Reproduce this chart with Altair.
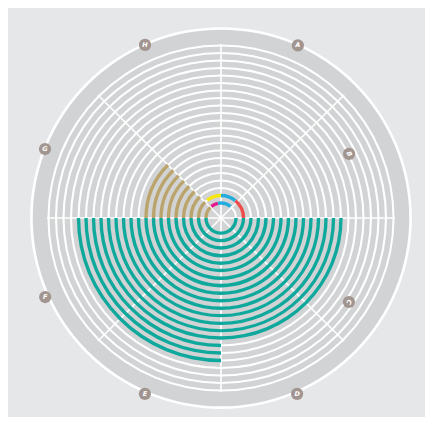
import math
import altair as alt
import pandas as pd

# ---------------- data ----------------
# guide rings (ring number k, radius = k ring-units)
ring_ids = list(range(2, 24))
spoke_angles = [0, 45, 90, 135, 180, 225, 270, 315]
spoke_len = 23.2

# coloured arcs: ring number, start angle (deg, clockwise from top), end angle, series
teal_rings = list(range(2, 20))
teal_start = [90] * 15 + [180] * 3
teal_end = [270] * 18

gold_rings = list(range(2, 11))
gold_start = [270] * 9
gold_end = [315] * 9

inner_rings = [2, 2, 3, 3, 3]
inner_start = [320, 348, 322, 0, 40]
inner_end = [348, 400, 360, 40, 90]
inner_series = ["magenta", "blue", "yellow", "blue", "red"]

series_names = ["teal", "gold", "yellow", "blue", "magenta", "red"]
series_colors = ["#0fa89c", "#bba46c", "#f7e70f", "#25acde", "#e5198a", "#ee4d4b"]

# category labels around the dial
labels = ["A", "B", "C", "D", "E", "F", "G", "H"]
label_angle = [24, 63.4, 123.3, 156.6, 203.4, 245.8, 291.4, 336.3]
label_radius = [25.2, 19.1, 20.4, 25.55, 25.55, 25.7, 25.2, 25.2]
label_rot = [0, 65, 115, 0, 0, 0, 0, 0]

# ---------------- frames ----------------
arcs = []
for r, s, e in zip(teal_rings, teal_start, teal_end):
    arcs.append(dict(ring=r, start=s, end=e, series="teal"))
for r, s, e in zip(gold_rings, gold_start, gold_end):
    arcs.append(dict(ring=r, start=s, end=e, series="gold"))
for r, s, e, c in zip(inner_rings, inner_start, inner_end, inner_series):
    arcs.append(dict(ring=r, start=s, end=e, series=c))
arcs_df = pd.DataFrame(arcs)
rings_df = pd.DataFrame({"ring": ring_ids, "start": 0, "end": 360})
spokes_df = pd.DataFrame({"angle": spoke_angles, "len": spoke_len})
labels_df = pd.DataFrame({"label": labels, "angle": label_angle,
                          "rad": label_radius, "rot": label_rot})
disk_df = pd.DataFrame({"start": [0], "end": [360], "outer": [25.2], "inner": [0.0]})
rim_df = pd.DataFrame({"start": [0], "end": [360], "outer": [25.45], "inner": [25.1]})

W, H = 417, 409
CX, CY = 213, 210          # centre of the dial inside the view (px)
UNIT = 7.5                 # px per ring unit

theta_scale = alt.Scale(domain=[0, 360], range=[0, 2 * math.pi])
rad_scale = alt.Scale(type="linear", domain=[0, 30], range=[0, 30 * UNIT], zero=True, nice=False)
xs = alt.Scale(domain=[-CX / UNIT, (W - CX) / UNIT], nice=False, zero=False)
ys = alt.Scale(domain=[-(H - CY) / UNIT, CY / UNIT], nice=False, zero=False)

centre = dict(
    x=alt.XDatum(0, type="quantitative", scale=xs, axis=None),
    y=alt.YDatum(0, type="quantitative", scale=ys, axis=None),
)


def arc_enc(outer, inner):
    return dict(
        theta=alt.Theta("start:Q", scale=theta_scale, stack=None),
        theta2="end:Q",
        radius=alt.Radius(outer, scale=rad_scale),
        radius2=inner,
        **centre,
    )


disk = alt.Chart(disk_df).mark_arc(color="#d1d3d4").encode(**arc_enc("outer:Q", "inner:Q"))
rim = alt.Chart(rim_df).mark_arc(color="#ffffff").encode(**arc_enc("outer:Q", "inner:Q"))

rings = alt.Chart(rings_df).transform_calculate(
    ro="datum.ring + 0.14", ri="datum.ring - 0.14"
).mark_arc(color="#ffffff").encode(**arc_enc("ro:Q", "ri:Q"))

spokes = alt.Chart(spokes_df).transform_calculate(
    x0="0", y0="0",
    x1="datum.len * sin(datum.angle * PI / 180)",
    y1="datum.len * cos(datum.angle * PI / 180)",
).mark_rule(color="#ffffff", strokeWidth=1.6).encode(
    x=alt.X("x0:Q", scale=xs, axis=None),
    y=alt.Y("y0:Q", scale=ys, axis=None),
    x2="x1:Q",
    y2="y1:Q",
)

colored = alt.Chart(arcs_df).transform_calculate(
    ro="datum.ring + 0.225", ri="datum.ring - 0.225"
).mark_arc().encode(
    color=alt.Color("series:N", scale=alt.Scale(domain=series_names, range=series_colors), legend=None),
    **arc_enc("ro:Q", "ri:Q"),
)

lab_base = alt.Chart(labels_df).transform_calculate(
    lx="datum.rad * sin(datum.angle * PI / 180)",
    ly="datum.rad * cos(datum.angle * PI / 180)",
)
dots = lab_base.mark_circle(color="#a29590", opacity=1, size=150).encode(
    x=alt.X("lx:Q", scale=xs, axis=None),
    y=alt.Y("ly:Q", scale=ys, axis=None),
)
texts = lab_base.mark_text(
    color="#ffffff", font="DejaVu Sans", fontSize=6.5, fontStyle="italic", fontWeight="bold",
    baseline="middle", align="center",
).encode(
    x=alt.X("lx:Q", scale=xs, axis=None),
    y=alt.Y("ly:Q", scale=ys, axis=None),
    text="label:N",
    angle=alt.Angle("rot:Q", scale=None),
)

chart = alt.layer(disk, rim, rings, spokes, colored, dots, texts).properties(
    width=W, height=H, padding=0, autosize=alt.AutoSizeParams(type="none"),
    background="#e6e7e8",
).configure_view(stroke=None)

chart.save("out.html", embed_options={"renderer": "svg", "actions": False})
